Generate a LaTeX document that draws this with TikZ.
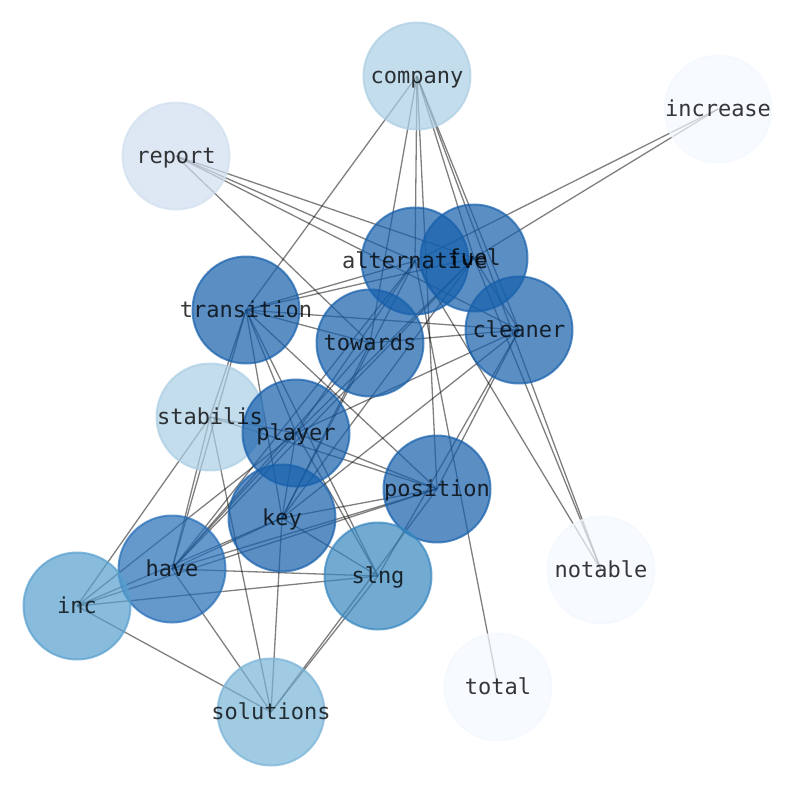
\documentclass[tikz,border=0pt]{standalone}
\usepackage{fontspec}
\newfontfamily\monof{DejaVu Sans Mono}
\definecolor{cDark}{RGB}{21,95,171}
\definecolor{cHave}{RGB}{36,109,182}
\definecolor{cSlng}{RGB}{54,134,191}
\definecolor{cInc}{RGB}{86,158,205}
\definecolor{cSol}{RGB}{121,179,215}
\definecolor{cMid}{RGB}{171,206,228}
\definecolor{cRep}{RGB}{208,222,239}
\definecolor{cPale}{RGB}{243,248,255}
\tikzset{
  nd/.style={circle, minimum size=107pt, inner sep=0pt, fill=#1, draw=#1,
    fill opacity=0.7, draw opacity=0.7, line width=2pt},
  lbl/.style={font=\monof\fontsize{22}{26}\selectfont, text=black, text opacity=0.78, inner sep=0pt, yshift=-2pt},
  ed/.style={draw=black, draw opacity=0.5, line width=1.3pt}
}
\begin{document}
\begin{tikzpicture}[x=1pt,y=-1pt]
\useasboundingbox (0,0) rectangle (794,790);
% positions
\coordinate (pC) at (417,76);
\coordinate (pI) at (718,109);
\coordinate (pR) at (176,156);
\coordinate (pA) at (415,261);
\coordinate (pF) at (474,258);
\coordinate (pT) at (246,310);
\coordinate (pW) at (370,343);
\coordinate (pL) at (519,330);
\coordinate (pS) at (210,417);
\coordinate (pP) at (296,433);
\coordinate (pO) at (437,489);
\coordinate (pK) at (282,518);
\coordinate (pH) at (172,569);
\coordinate (pG) at (378,576);
\coordinate (pN) at (77,606);
\coordinate (pB) at (601,570);
\coordinate (pQ) at (498,687);
\coordinate (pU) at (271,712);
% edges
\foreach \a/\b in {C/T,C/W,C/A,C/F,C/L,C/B,C/O,
  I/A,I/F,
  R/W,R/L,R/A,R/F,
  A/B,A/Q,A/T,A/H,A/P,A/K,
  F/B,F/T,F/P,F/K,F/H,F/L,
  T/L,T/W,T/S,T/H,T/P,T/K,T/G,T/O,
  S/H,S/N,S/U,S/P,S/O,
  N/P,N/K,N/O,N/G,N/U,
  H/P,H/W,H/K,H/O,H/G,H/U,
  K/U,K/P,K/L,K/O,K/G,
  P/L,P/O,P/G,
  W/L,W/K,
  O/L,O/U,G/U,G/L}
  \draw[ed] (p\a) -- (p\b);
% nodes
\node[nd=cMid]  (company)     at (pC) {};
\node[nd=cPale] (increase)    at (pI) {};
\node[nd=cRep]  (report)      at (pR) {};
\node[nd=cDark] (alternative) at (pA) {};
\node[nd=cDark] (fuel)        at (pF) {};
\node[nd=cDark] (transition)  at (pT) {};
\node[nd=cDark] (towards)     at (pW) {};
\node[nd=cDark] (cleaner)     at (pL) {};
\node[nd=cMid]  (stabilis)    at (pS) {};
\node[nd=cDark] (player)      at (pP) {};
\node[nd=cDark] (position)    at (pO) {};
\node[nd=cDark] (key)         at (pK) {};
\node[nd=cHave] (have)        at (pH) {};
\node[nd=cSlng] (slng)        at (pG) {};
\node[nd=cInc]  (inc)         at (pN) {};
\node[nd=cPale] (notable)     at (pB) {};
\node[nd=cPale] (total)       at (pQ) {};
\node[nd=cSol]  (solutions)   at (pU) {};
% labels
\foreach \n in {company,increase,report,alternative,fuel,transition,towards,cleaner,
  stabilis,player,position,key,have,slng,inc,notable,total,solutions}
  \node[lbl] (\n-t) at (\n.center) {\strut\n};
\end{tikzpicture}
\end{document}
